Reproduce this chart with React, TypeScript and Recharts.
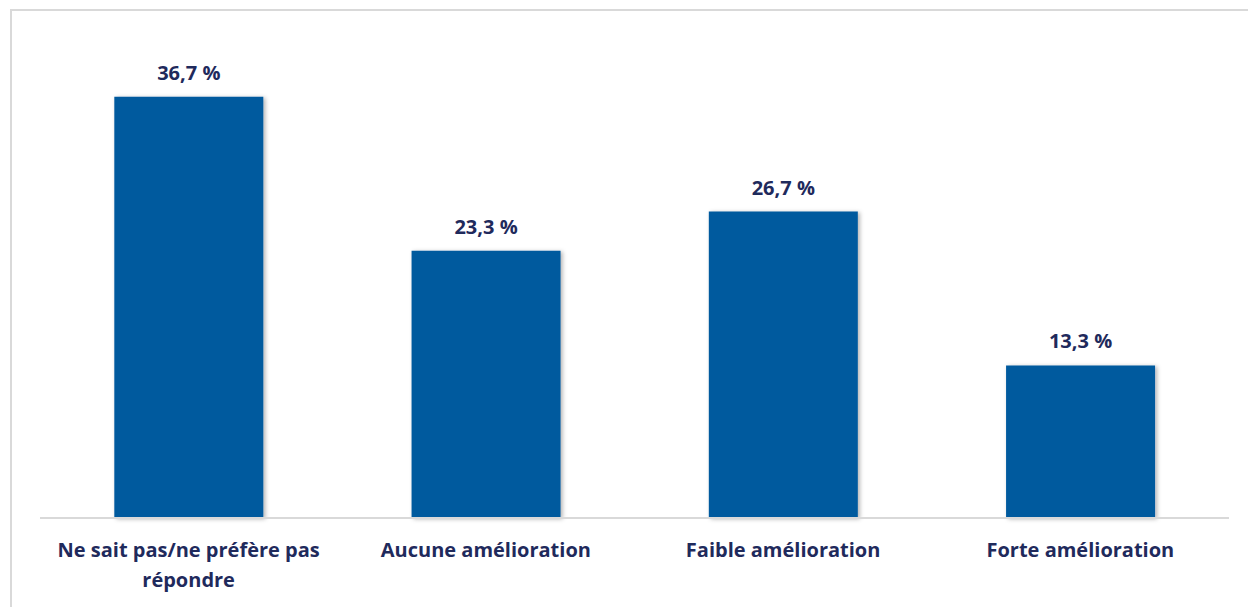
import React from "react";
import { BarChart, Bar, XAxis, YAxis, LabelList } from "recharts";

const categories = [
  "Ne sait pas/ne préfère pas répondre",
  "Aucune amélioration",
  "Faible amélioration",
  "Forte amélioration",
];
const values = [36.7, 23.3, 26.7, 13.3];
const valueLabels = ["36,7 %", "23,3 %", "26,7 %", "13,3 %"];

const data = categories.map((c, i) => ({ name: c, value: values[i], label: valueLabels[i] }));

const FONT = "'Open Sans', sans-serif";
const TEXT_COLOR = "#1f2a5c";
const BAR_COLOR = "#005a9e";
const MAX_CHARS = 28;

function wrap(text: string): string[] {
  const words = text.split(" ");
  const lines: string[] = [];
  let cur = "";
  for (const w of words) {
    const next = cur ? cur + " " + w : w;
    if (next.length > MAX_CHARS && cur) {
      lines.push(cur);
      cur = w;
    } else {
      cur = next;
    }
  }
  if (cur) lines.push(cur);
  return lines;
}

const Tick = (props: any) => {
  const { x, y, payload } = props;
  const lines = wrap(String(payload.value));
  return (
    <text
      x={x}
      y={y}
      textAnchor="middle"
      fill={TEXT_COLOR}
      style={{ fontFamily: FONT, fontSize: 20, fontWeight: 700 }}
    >
      {lines.map((l, i) => (
        <tspan key={i} x={x} dy={i === 0 ? 31 : 30}>
          {l}
        </tspan>
      ))}
    </text>
  );
};

export default function App() {
  return (
    <div style={{ position: "absolute", left: 0, top: 0, width: 1248, height: 607, overflow: "hidden", background: "#fff" }}>
      <div
        style={{
          position: "absolute",
          left: 10,
          top: 9,
          width: 1400,
          height: 800,
          borderLeft: "2px solid #d9d9d9",
          borderTop: "2px solid #d9d9d9",
        }}
      />
      <div style={{ position: "absolute", left: 0, top: 0 }}>
        <BarChart
          width={1248}
          height={607}
          data={data}
          margin={{ top: 59, right: 19, bottom: 19, left: 40 }}
          barCategoryGap="25%"
        >
          <defs>
            <filter id="barShadow" x="-10%" y="-10%" width="125%" height="125%">
              <feDropShadow dx="2" dy="1" stdDeviation="2" floodColor="#000" floodOpacity="0.3" />
            </filter>
          </defs>
          <YAxis hide domain={[0, 40]} />
          <XAxis
            dataKey="name"
            height={70}
            axisLine={{ stroke: "#d9d9d9", strokeWidth: 2 }}
            tickLine={false}
            interval={0}
            tick={<Tick />}
          />
          <Bar dataKey="value" fill={BAR_COLOR} isAnimationActive={false} filter="url(#barShadow)">
            <LabelList
              dataKey="label"
              position="top"
              offset={17}
              fill={TEXT_COLOR}
              style={{ fontFamily: FONT, fontSize: 20, fontWeight: 700 }}
            />
          </Bar>
        </BarChart>
      </div>
    </div>
  );
}
